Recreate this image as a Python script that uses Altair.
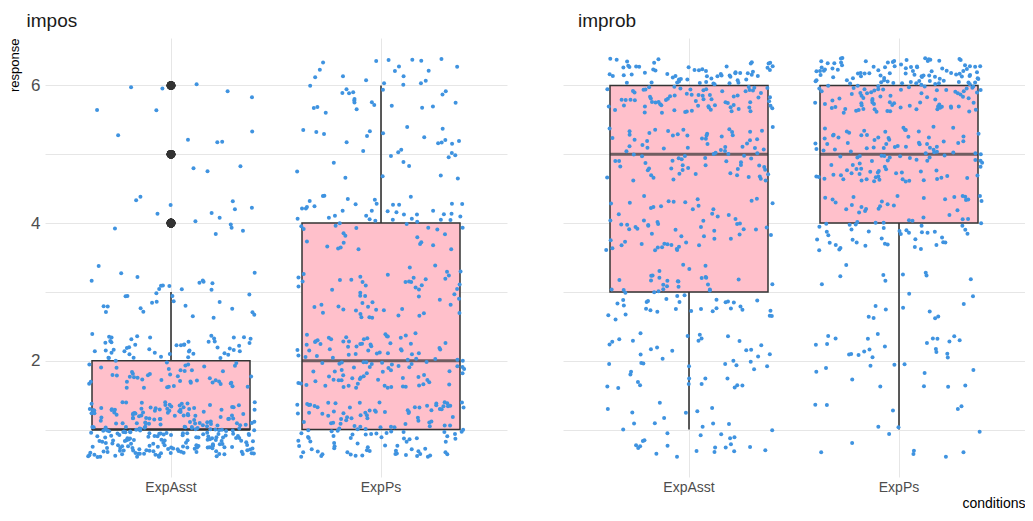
import altair as alt
import pandas as pd

# ---- data (counts of integer responses) ----
measures = ["impos", "improb"]
conditions = ["ExpAsst", "ExpPs"]
responses = [1, 2, 3, 4, 5, 6]

impos_expasst = [260, 100, 35, 15, 8, 7]
impos_expps = [130, 110, 55, 60, 30, 40]
improb_expasst = [35, 45, 60, 65, 85, 135]
improb_expps = [15, 35, 20, 75, 110, 170]

counts = {
    ("impos", "ExpAsst"): impos_expasst,
    ("impos", "ExpPs"): impos_expps,
    ("improb", "ExpAsst"): improb_expasst,
    ("improb", "ExpPs"): improb_expps,
}

rows = []
for (m, c), cnt in counts.items():
    for r, k in zip(responses, cnt):
        rows += [{"measure": m, "condition": c, "response": r}] * k
df = pd.DataFrame(rows)

FONT = "Liberation Sans"
PT_COLOR = "#3f93e0"
DARK = "#333333"
GRID = "#e6e6e6"
W, H = 462, 439
YDOM = [0.31, 6.69]


def panel(measure, first):
    sub = df[df.measure == measure]
    base = alt.Chart(sub)
    yscale = alt.Scale(domain=YDOM, nice=False, zero=False)
    if first:
        yaxis = alt.Axis(values=responses, labelExpr="datum.value % 2 == 0 ? datum.label : ''",
                         title="response", titleFontSize=13, titleFontWeight="normal",
                         titleColor="#000000", titleAnchor="end", titlePadding=9,
                         labelFontSize=17, labelColor="#4d4d4d", labelPadding=5,
                         grid=True, gridColor=GRID, domain=False, ticks=False)
    else:
        yaxis = alt.Axis(values=responses, labels=False, title=None,
                         grid=True, gridColor=GRID, domain=False, ticks=False)
    xaxis = alt.Axis(title=None if first else "conditions", titleAnchor="end",
                     titleFontSize=14, titleFontWeight="normal", titleColor="#000000",
                     titlePadding=2, labelFontSize=14, labelColor="#4d4d4d", labelPadding=3,
                     labelAngle=0, grid=True, gridColor=GRID, bandPosition=0.5,
                     domain=False, ticks=False)
    box = base.mark_boxplot(
        size=158, extent=1.5,
        box={"fill": "#ffc0cb", "stroke": DARK, "strokeWidth": 1.5},
        median={"color": DARK, "thickness": 3},
        rule={"color": DARK, "strokeWidth": 1.6},
        outliers={"color": DARK, "size": 75, "filled": True, "opacity": 1},
    ).encode(
        x=alt.X("condition:N", sort=conditions,
                scale=alt.Scale(domain=conditions, paddingInner=0, paddingOuter=0.1),
                axis=xaxis),
        y=alt.Y("response:Q", scale=yscale, axis=yaxis),
    )
    pts = base.transform_window(n="row_number()").transform_calculate(
        idx="datum.condition == 'ExpAsst' ? 0 : 1",
        hx="abs(sin(datum.n * 12.9898 + 4.1) * 43758.5453) % 1",
        hy="abs(sin(datum.n * 78.233 + 1.7) * 24634.6345) % 1",
    ).transform_calculate(
        xj="datum.idx + (datum.hx - 0.5) * 0.8",
        yj="datum.response + (datum.hy - 0.5) * 0.8",
    ).mark_circle(size=16, color=PT_COLOR, opacity=1).encode(
        x=alt.X("xj:Q", scale=alt.Scale(domain=[-0.6, 1.6], nice=False, zero=False), axis=None),
        y=alt.Y("yj:Q", scale=yscale, axis=yaxis),
    )
    title = alt.TitleParams(measure, anchor="start", frame="bounds", fontSize=19,
                            fontWeight="normal", font=FONT, color="#1a1a1a",
                            dx=18 if first else 15, offset=7)
    return alt.layer(box, pts).resolve_scale(x="independent").properties(
        width=W, height=H, title=title)


chart = alt.hconcat(panel("impos", True), panel("improb", False), spacing=56).properties(
    padding={"left": 0, "right": 0, "top": 4, "bottom": 0}
).configure(font=FONT, background="white").configure_view(stroke=None)

chart.save("out.html", embed_options={"renderer": "svg", "actions": False})
